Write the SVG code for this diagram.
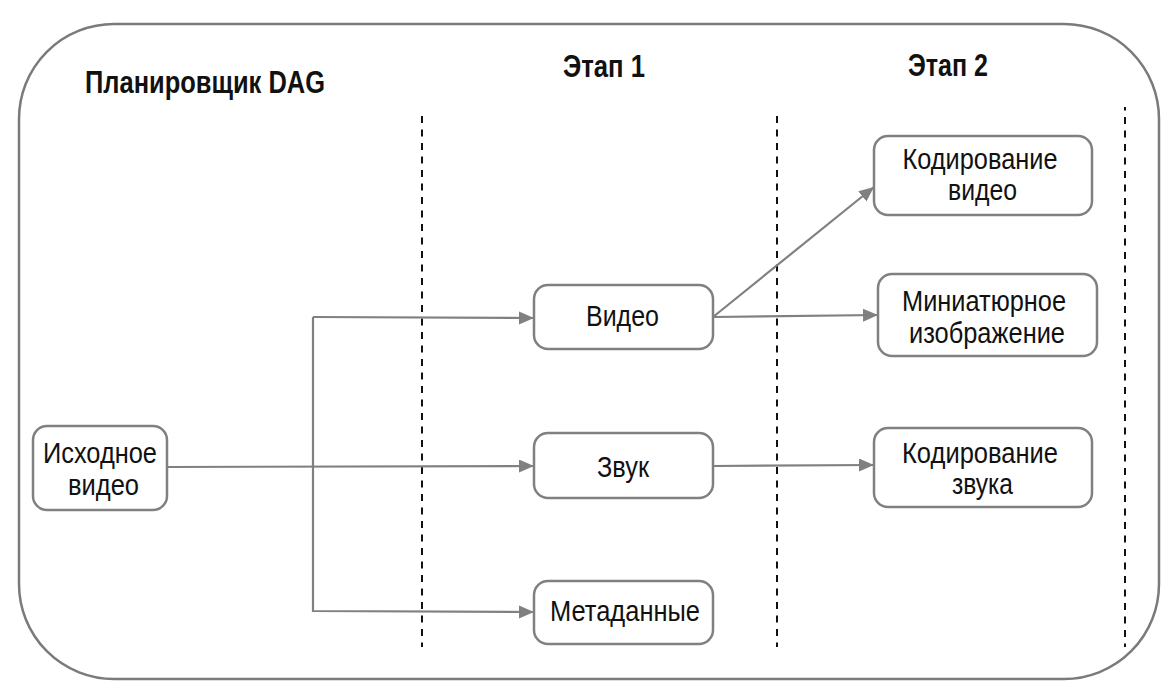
<svg xmlns="http://www.w3.org/2000/svg" width="1172" height="700" viewBox="0 0 1172 700">
<style>
.frame{fill:#fff;stroke:#7a7a7a;stroke-width:2.5}
.node rect{fill:#fff;stroke:#808080;stroke-width:2.5}
.t{font-family:"Liberation Sans",Arial,sans-serif;font-size:30px;fill:#111;text-anchor:middle}
.h{font-family:"Liberation Sans",Arial,sans-serif;font-size:31px;font-weight:bold;fill:#111}
.dash{stroke:#111;stroke-width:2;stroke-dasharray:7 6.5;fill:none}
.edge{stroke:#808080;stroke-width:2.2;fill:none}
</style>
<defs>
<marker id="arr" markerUnits="userSpaceOnUse" markerWidth="16" markerHeight="14" refX="15" refY="6.5" orient="auto">
<path d="M0,0 L15,6.5 L0,13 z" fill="#808080"/>
</marker>
</defs>
<rect class="frame" x="19" y="24" width="1140" height="655" rx="95" ry="95"/>
<g id="labels">
<text class="h" x="85" y="93" textLength="240" lengthAdjust="spacingAndGlyphs">Планировщик DAG</text>
<text class="h" x="563" y="77" textLength="82" lengthAdjust="spacingAndGlyphs">Этап 1</text>
<text class="h" x="908" y="76" textLength="80" lengthAdjust="spacingAndGlyphs">Этап 2</text>
</g>
<g id="dividers">
<line class="dash" x1="422" y1="116" x2="422" y2="647"/>
<line class="dash" x1="777" y1="116" x2="777" y2="647"/>
<line class="dash" x1="1125" y1="107" x2="1125" y2="647" stroke-dashoffset="3.5"/>
</g>
<g id="connectors">
<line class="edge" x1="167" y1="467" x2="534" y2="466" marker-end="url(#arr)"/>
<polyline class="edge" points="313,317 313,611 534,612" marker-end="url(#arr)"/>
<line class="edge" x1="313" y1="317" x2="534" y2="318" marker-end="url(#arr)"/>
<line class="edge" x1="713" y1="317" x2="874" y2="187" marker-end="url(#arr)"/>
<line class="edge" x1="713" y1="317" x2="878" y2="315" marker-end="url(#arr)"/>
<line class="edge" x1="713" y1="466" x2="874" y2="465" marker-end="url(#arr)"/>
</g>
<g id="n-source" class="node">
<rect x="33" y="426" width="134" height="84" rx="14"/>
<text class="t" x="100" y="463" textLength="114" lengthAdjust="spacingAndGlyphs">Исходное</text>
<text class="t" x="103.5" y="495" textLength="71" lengthAdjust="spacingAndGlyphs">видео</text>
</g>
<g id="n-video" class="node">
<rect x="534" y="285" width="179" height="64" rx="14"/>
<text class="t" x="622.5" y="326" textLength="73" lengthAdjust="spacingAndGlyphs">Видео</text>
</g>
<g id="n-audio" class="node">
<rect x="534" y="433" width="179" height="65" rx="14"/>
<text class="t" x="623" y="477" textLength="52" lengthAdjust="spacingAndGlyphs">Звук</text>
</g>
<g id="n-meta" class="node">
<rect x="534" y="581" width="179" height="63" rx="14"/>
<text class="t" x="625" y="621" textLength="150" lengthAdjust="spacingAndGlyphs">Метаданные</text>
</g>
<g id="n-encvideo" class="node">
<rect x="874" y="136" width="218" height="79" rx="14"/>
<text class="t" x="980" y="169" textLength="155" lengthAdjust="spacingAndGlyphs">Кодирование</text>
<text class="t" x="982.5" y="200" textLength="69" lengthAdjust="spacingAndGlyphs">видео</text>
</g>
<g id="n-thumb" class="node">
<rect x="878" y="274" width="219" height="82" rx="14"/>
<text class="t" x="984" y="311" textLength="164" lengthAdjust="spacingAndGlyphs">Миниатюрное</text>
<text class="t" x="987" y="343" textLength="156" lengthAdjust="spacingAndGlyphs">изображение</text>
</g>
<g id="n-encaudio" class="node">
<rect x="874" y="428" width="218" height="79" rx="14"/>
<text class="t" x="980" y="463" textLength="156" lengthAdjust="spacingAndGlyphs">Кодирование</text>
<text class="t" x="982.5" y="494" textLength="61" lengthAdjust="spacingAndGlyphs">звука</text>
</g>
</svg>
